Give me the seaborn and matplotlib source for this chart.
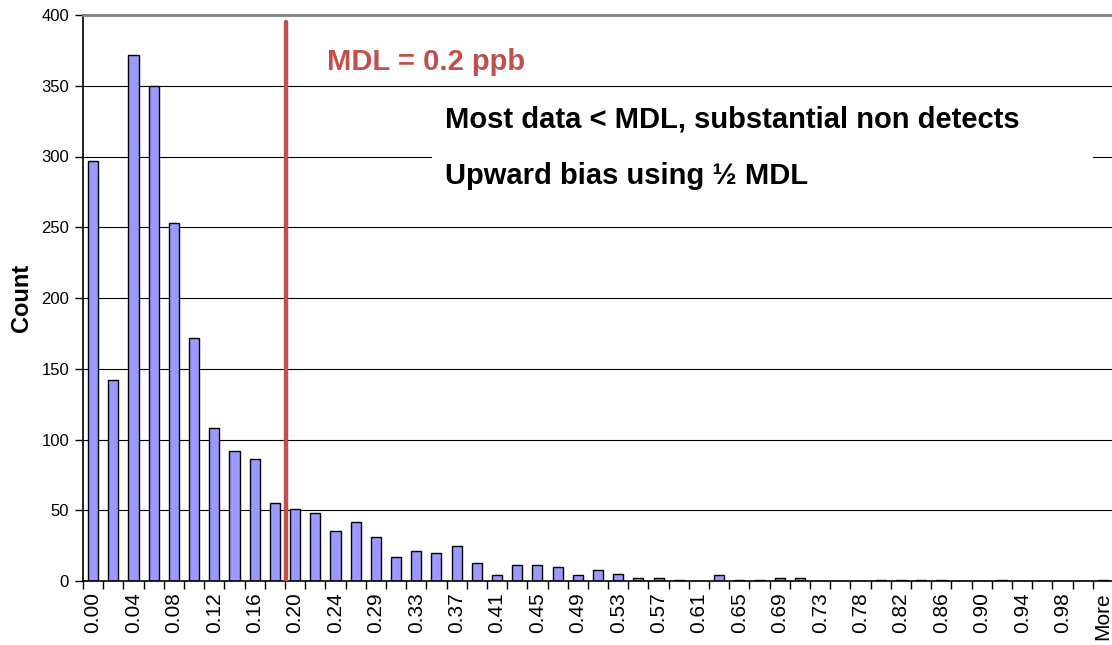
import matplotlib
matplotlib.use('Agg')
import matplotlib.pyplot as plt
import seaborn as sns
import pandas as pd
from matplotlib.patches import Rectangle

# histogram bins (upper edges, ppb) as printed by the spreadsheet
bins = ['0.00', '0.02', '0.04', '0.06', '0.08', '0.10', '0.12', '0.14', '0.16', '0.18',
        '0.20', '0.22', '0.24', '0.27', '0.29', '0.31', '0.33', '0.35', '0.37', '0.39',
        '0.41', '0.43', '0.45', '0.47', '0.49', '0.51', '0.53', '0.55', '0.57', '0.59',
        '0.61', '0.63', '0.65', '0.67', '0.69', '0.71', '0.73', '0.76', '0.78', '0.80',
        '0.82', '0.84', '0.86', '0.88', '0.90', '0.92', '0.94', '0.96', '0.98', '1.00',
        'More']
counts = [297, 142, 372, 350, 253, 172, 108, 92, 86, 55,
          51, 48, 35, 42, 31, 17, 21, 20, 25, 13,
          4, 11, 11, 10, 4, 8, 5, 2, 2, 1,
          0, 4, 1, 1, 2, 2, 0, 0, 0, 1,
          1, 1, 1, 0, 0, 1, 0, 0, 0, 0, 1]

mdl_pos = 9.55      # MDL = 0.2 ppb, in bin units
mdl_top = 395

sns.set_theme(style='white')
plt.rcParams['font.family'] = ['Liberation Sans', 'DejaVu Sans']
plt.rcParams['text.color'] = 'black'
plt.rcParams['axes.labelcolor'] = 'black'
plt.rcParams['xtick.color'] = 'black'
plt.rcParams['ytick.color'] = 'black'

df = pd.DataFrame({'bin': bins, 'count': counts})

fig = plt.figure(figsize=(11.12, 6.45), dpi=100)
ax = fig.add_axes([83 / 1112, 64 / 645, 1029 / 1112, 566 / 645])

sns.barplot(data=df, x='bin', y='count', order=bins, color='#9999FF',
            saturation=1, edgecolor='black', linewidth=1.0, width=0.5, ax=ax)

ax.set_xlim(-0.5, 50.45)
ax.set_ylim(0, 400)
ax.set_yticks(range(0, 401, 50))
ax.set_axisbelow(True)
ax.yaxis.grid(True, color='black', linewidth=0.8)
ax.xaxis.grid(False)

# labels on every other bin, tick marks on bin boundaries
ax.set_xticks(range(0, len(bins), 2))
ax.set_xticklabels(bins[::2], rotation=90, fontsize=15)
ax.set_xticks([i - 0.5 for i in range(len(bins))], minor=True)
ax.tick_params(axis='x', which='major', length=0, pad=8)
ax.tick_params(axis='x', which='minor', length=6, width=1, direction='out', bottom=True)
ax.tick_params(axis='y', length=6, width=1, direction='out', left=True, labelsize=12, pad=4)

ax.set_xlabel('')
ax.set_ylabel('Count', fontsize=17, fontweight='bold', labelpad=6)

for s in ['left', 'bottom']:
    ax.spines[s].set_color('black')
    ax.spines[s].set_linewidth(1.2)
ax.spines['top'].set_color('#808080')
ax.spines['top'].set_linewidth(2)
ax.spines['right'].set_visible(False)

# MDL marker
ax.plot([mdl_pos, mdl_pos], [0, mdl_top], color='#C0504D', linewidth=3.2, zorder=4)
ax.text(11.6, 367, 'MDL = 0.2 ppb', color='#C0504D', fontsize=21, fontweight='bold',
        ha='left', va='center')

# annotation box hides the gridline behind it
ax.add_patch(Rectangle((16.8, 268), 32.7, 72, facecolor='white', edgecolor='none', zorder=1.5))
ax.text(17.4, 326, 'Most data < MDL, substantial non detects', fontsize=21, fontweight='bold',
        ha='left', va='center', zorder=3)
ax.text(17.4, 286, 'Upward bias using \u00bd MDL', fontsize=21, fontweight='bold',
        ha='left', va='center', zorder=3)

fig.savefig('out.png', dpi=100)
